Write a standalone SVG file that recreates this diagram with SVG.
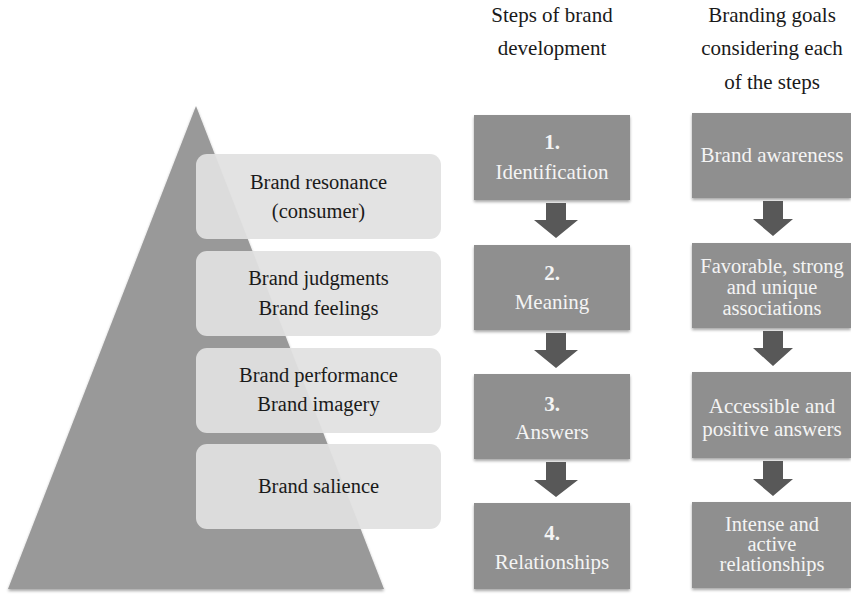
<svg xmlns="http://www.w3.org/2000/svg" width="851" height="594" viewBox="0 0 851 594">
  <defs>
    <filter id="soft" x="-10%" y="-10%" width="120%" height="125%">
      <feGaussianBlur in="SourceAlpha" stdDeviation="1.5"/>
      <feOffset dy="2" result="b"/>
      <feComponentTransfer><feFuncA type="linear" slope="0.35"/></feComponentTransfer>
      <feMerge><feMergeNode/><feMergeNode in="SourceGraphic"/></feMerge>
    </filter>
    <style>
      text { font-family: "Times New Roman", "Liberation Serif", "Noto Serif", "DejaVu Serif", Times, serif; text-anchor: middle; }
      .hdr { font-size: 21px; fill: #1a1a1a; }
      .lvl rect { fill: #e1e1e1; fill-opacity: 0.93; }
      .lvl text { font-size: 20.5px; fill: #1a1a1a; }
      .step rect, .goal rect { fill: #8f8f8f; filter: url(#soft); }
      .step text, .goal text { font-size: 21px; fill: #f4f4f4; }
      .goal .tight { font-size: 20.5px; }
      .num { font-weight: bold; }
      .arrow { fill: #585858; }
    </style>
  </defs>

  <rect width="851" height="594" fill="#ffffff"/>

  <!-- column headings -->
  <g id="heading-steps" class="hdr">
    <text x="552" y="22">Steps of brand</text>
    <text x="552" y="55">development</text>
  </g>
  <g id="heading-goals" class="hdr">
    <text x="772" y="22">Branding goals</text>
    <text x="772" y="55">considering each</text>
    <text x="772" y="89">of the steps</text>
  </g>

  <!-- brand pyramid -->
  <g id="pyramid">
    <polygon points="196,106 384,589 8,589" fill="#999999" filter="url(#soft)"/>
  </g>

  <!-- pyramid levels -->
  <g id="level-resonance" class="lvl">
    <rect x="196" y="154" width="245" height="85" rx="11"/>
    <text x="318.5" y="189">Brand resonance</text>
    <text x="318.5" y="218">(consumer)</text>
  </g>
  <g id="level-judgments" class="lvl">
    <rect x="196" y="251" width="245" height="85" rx="11"/>
    <text x="318.5" y="285">Brand judgments</text>
    <text x="318.5" y="315">Brand feelings</text>
  </g>
  <g id="level-performance" class="lvl">
    <rect x="196" y="348" width="245" height="85" rx="11"/>
    <text x="318.5" y="382">Brand performance</text>
    <text x="318.5" y="411">Brand imagery</text>
  </g>
  <g id="level-salience" class="lvl">
    <rect x="196" y="444" width="245" height="85" rx="11"/>
    <text x="318.5" y="493">Brand salience</text>
  </g>

  <!-- steps of brand development -->
  <g id="step-1" class="step">
    <rect x="474" y="115" width="156" height="85"/>
    <text class="num" x="552" y="149">1.</text>
    <text x="552" y="179">Identification</text>
  </g>
  <g id="step-2" class="step">
    <rect x="474" y="245" width="156" height="85"/>
    <text class="num" x="552" y="280">2.</text>
    <text x="552" y="309">Meaning</text>
  </g>
  <g id="step-3" class="step">
    <rect x="474" y="374" width="156" height="85"/>
    <text class="num" x="552" y="411">3.</text>
    <text x="552" y="439">Answers</text>
  </g>
  <g id="step-4" class="step">
    <rect x="474" y="503" width="156" height="86"/>
    <text class="num" x="552" y="540">4.</text>
    <text x="552" y="569">Relationships</text>
  </g>

  <!-- branding goals -->
  <g id="goal-1" class="goal">
    <rect x="692" y="113" width="159" height="85"/>
    <text x="772" y="162">Brand awareness</text>
  </g>
  <g id="goal-2" class="goal">
    <rect x="692" y="243" width="159" height="85"/>
    <text class="tight" x="772" y="273">Favorable, strong</text>
    <text class="tight" x="772" y="294">and unique</text>
    <text class="tight" x="772" y="315">associations</text>
  </g>
  <g id="goal-3" class="goal">
    <rect x="692" y="372" width="159" height="86"/>
    <text x="772" y="413">Accessible and</text>
    <text x="772" y="436">positive answers</text>
  </g>
  <g id="goal-4" class="goal">
    <rect x="692" y="502" width="159" height="86"/>
    <text class="tight" x="772" y="531">Intense and</text>
    <text class="tight" x="772" y="551">active</text>
    <text class="tight" x="772" y="571">relationships</text>
  </g>

  <!-- block arrows between stages -->
  <g id="connectors" class="arrow">
    <polygon points="546,203 566,203 566,220 578,220 556,238 534,220 546,220"/>
    <polygon points="546,333 566,333 566,350 578,350 556,368 534,350 546,350"/>
    <polygon points="546,462 566,462 566,480 578,480 556,497 534,480 546,480"/>
    <polygon points="763,201 783,201 783,219 793,219 773,236 753,219 763,219"/>
    <polygon points="763,331 783,331 783,348 793,348 773,366 753,348 763,348"/>
    <polygon points="763,461 783,461 783,479 793,479 773,496 753,479 763,479"/>
  </g>
</svg>
